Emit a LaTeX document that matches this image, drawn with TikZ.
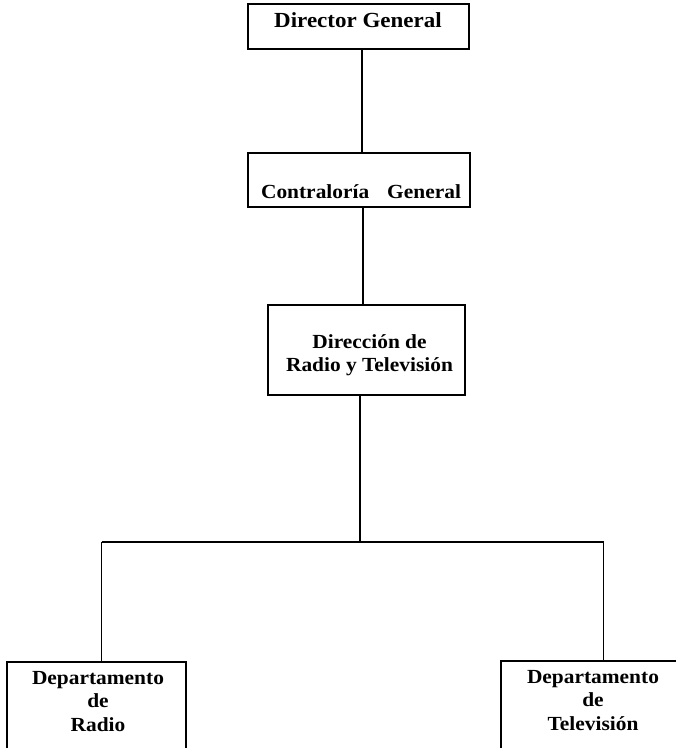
\documentclass[tikz,border=0pt]{standalone}
\usepackage{fontspec}
\setmainfont{Liberation Serif}[FakeStretch=1.07]
\begin{document}
\begin{tikzpicture}[x=1pt,y=-1pt,
  box/.style={draw=black,line width=1.3pt,rectangle,inner sep=0pt},
  lbl/.style={font=\bfseries\fontsize{20}{23.5}\selectfont,inner sep=0pt,align=center},
  conn/.style={draw=black,line width=1.8pt}]
\useasboundingbox (0,0) rectangle (676,748);
\clip (0,0) rectangle (676,748);
% boxes
\node[box,minimum width=221pt,minimum height=45pt] (dg) at (358.5,26.5) {};
\node[box,minimum width=222pt,minimum height=54pt] (cg) at (359,180) {};
\node[box,minimum width=197pt,minimum height=90pt] (dr) at (366.5,350) {};
\node[box,minimum width=179pt,minimum height=120pt] (dpr) at (96.5,722) {};
\node[box,minimum width=220pt,minimum height=120pt] (dpt) at (611,721) {};
% texts
\node[lbl,anchor=base,font=\bfseries\fontsize{21.5}{24}\selectfont] (dgt) at (358,27) {Director General};
\node[lbl,anchor=base] (cgt) at (361,198) {Contraloría\hspace{0.9em}General};
\node[lbl] (drt) at (369.5,355) {Dirección de\\Radio y Televisión};
\node[lbl] (dprt) at (98,701.5) {Departamento\\de\\Radio};
\node[lbl] (dptt) at (593,700.5) {Departamento\\de\\Televisión};
% connectors
\coordinate (jn) at (360,542);
\coordinate (bl) at (101.5,542);
\coordinate (br) at (603.5,542);
\draw[conn] ([xshift=3.5pt]dg.south) -- ([xshift=3.5pt]dg.south |- cg.north);
\draw[conn] ([xshift=4pt]cg.south) -- ([xshift=4pt]cg.south |- dr.north);
\draw[conn] ([xshift=-6.5pt]dr.south) -- (jn);
\draw[conn] (bl) -- (br);
\draw[conn] (bl) -- (bl |- dpr.north);
\draw[conn] (br) -- (br |- dpt.north);
\end{tikzpicture}
\end{document}
